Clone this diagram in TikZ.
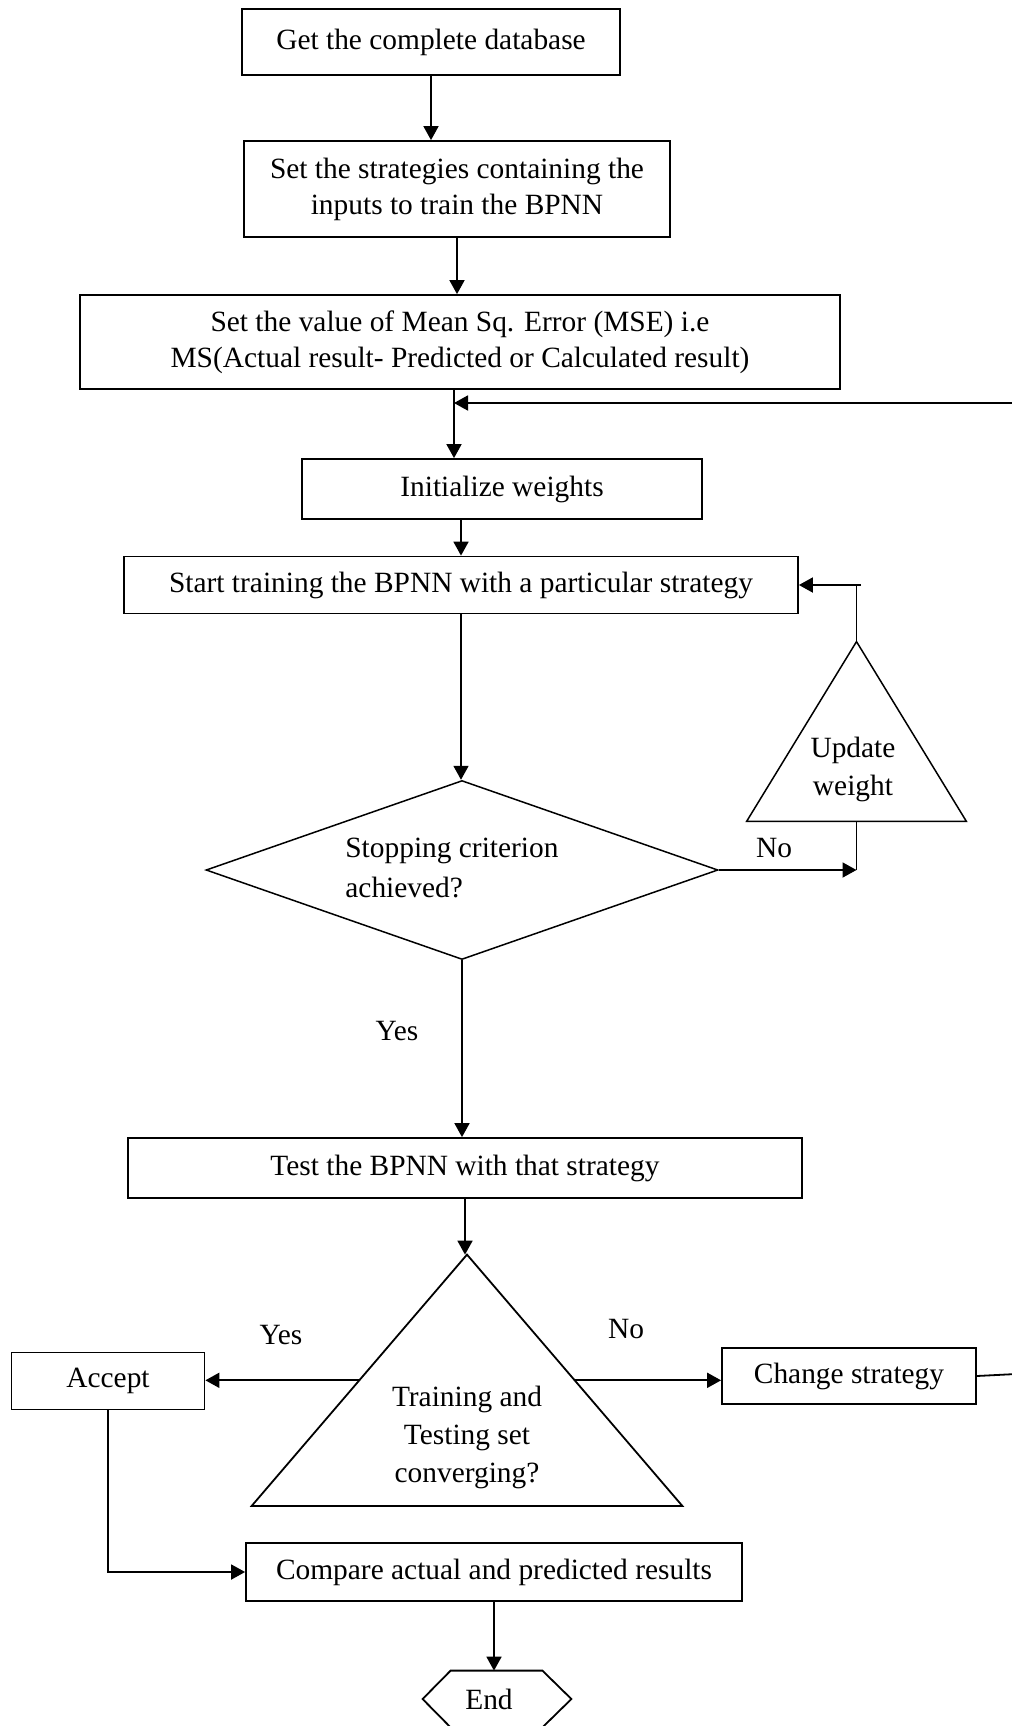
\documentclass[tikz,border=0pt]{standalone}
\usepackage{fontspec}
\setmainfont{Liberation Serif}
\usetikzlibrary{shapes.geometric,arrows.meta,calc}
\begin{document}
\begin{tikzpicture}[x=0.5pt,y=-0.5pt,
  font=\fontsize{14.7}{18}\selectfont,
  box/.style={draw, line width=0.9pt, rectangle, inner sep=0pt, align=center},
  arr/.style={line width=0.9pt, -{Triangle[length=7pt,width=7.5pt]}},
  ln/.style={line width=0.9pt},
  thin/.style={line width=0.75pt},
  lbl/.style={inner sep=0pt}]
\useasboundingbox (0,0) rectangle (1012,1726);

% boxes
\node[box, minimum width=189pt, minimum height=33pt] (b1) at (431,42) {Get the complete database};
\node[box, minimum width=213pt, minimum height=48pt] (b2) at (457,189) {Set the strategies containing the\\inputs to train the BPNN};
\node[box, minimum width=380pt, minimum height=47pt] (b3) at (460,342) {Set the value of Mean Sq. Error (MSE) i.e\\MS(Actual result- Predicted or Calculated result)};
\node[box, minimum width=200pt, minimum height=30pt] (b4) at (502,489) {Initialize weights};
\node[box, minimum width=337pt, minimum height=28.5pt] (b5) at (461,585) {Start training the BPNN with a particular strategy};

% decision diamond
\node[draw, diamond, thin, inner sep=0pt, minimum width=256pt, minimum height=89.5pt] (dia) at (462,870) {};
\node[lbl, align=left, anchor=west, font=\fontsize{14.7}{20}\selectfont] (diat) at (345,868) {Stopping criterion\\achieved?};

% update weight triangle
\node[inner sep=0pt, minimum width=109.5pt, minimum height=89.5pt] (upd) at (856.5,731.5) {};
\draw[thin] (upd.south west) -- (upd.north) -- (upd.south east) -- cycle;
\node[lbl, align=center, font=\fontsize{14.7}{19}\selectfont] (updt) at (853,769) {Update\\weight};

\node[box, minimum width=337pt, minimum height=30pt] (tst) at (465,1168) {Test the BPNN with that strategy};

% converging triangle
\node[inner sep=0pt, minimum width=215pt, minimum height=125.3pt] (cv) at (467,1380.3) {};
\draw[ln] (cv.south west) -- (cv.north) -- (cv.south east) -- cycle;
\node[lbl, align=center, font=\fontsize{14.7}{19}\selectfont] (cvt) at (467,1437.6) {Training and\\Testing set\\converging?};

\node[box, minimum width=96.5pt, minimum height=28.5pt] (acc) at (108,1381) {Accept};
\node[box, minimum width=127pt, minimum height=28pt] (cs) at (849,1376) {Change strategy};
\node[box, minimum width=248pt, minimum height=29.25pt] (cmp) at (494,1572) {Compare actual and predicted results};

% end hexagon
\node[inner sep=0pt, minimum width=74pt, minimum height=28pt] (endn) at (497,1699) {};
\draw[ln] (endn.west) -- ($(endn.north west)+(28,0)$) -- ($(endn.north east)+(-29,0)$) -- (endn.east) -- ($(endn.south east)+(-29,0)$) -- ($(endn.south west)+(28,0)$) -- cycle;
\node[lbl] (endt) at (489,1699) {End};

% connectors
\draw[arr] (b1.south) -- (b1.south |- b2.north);
\draw[arr] (b2.south) -- (b2.south |- b3.north);
\coordinate (j) at (454,403);
\draw[arr] (j |- b3.south) -- (j |- b4.north);
\draw[arr] (b5.north |- b4.south) -- (b5.north);
\draw[arr] (b5.south) -- (b5.south |- dia.north);
\draw[arr] (dia.east) -- (dia.east -| upd.south);
\draw[ln] (upd.south) -- (upd.south |- dia.east);
\coordinate (tick) at (861,585);
\draw[ln] (upd.north) -- (upd.north |- b5.east);
\draw[arr] (tick) -- (b5.east);
\draw[arr] (dia.south) -- (dia.south |- tst.north);
\draw[arr] (tst.south) -- (tst.south |- cv.north);
\coordinate (cvl) at ($(cv.north)!0.5!(cv.south west)$);
\coordinate (cvr) at ($(cv.north)!0.5!(cv.south east)$);
\draw[arr] (cvl) -- (cvl -| acc.east);
\draw[arr] (cvr) -- (cvr -| cs.west);
\draw[arr] (acc.south) |- (cmp.west);
\draw[arr] (cmp.south) -- (cmp.south |- endn.north);
\coordinate (e1) at (1016,1374);
\coordinate (e2) at (1016,403);
\draw[arr] (cs.east) -- (e1) -- (e2) -- (j);

% labels
\node[lbl] (no1) at (774,848) {No};
\node[lbl] (yes1) at (397,1031) {Yes};
\node[lbl] (yes2) at (281,1335) {Yes};
\node[lbl] (no2) at (626,1329) {No};
\end{tikzpicture}
\end{document}
